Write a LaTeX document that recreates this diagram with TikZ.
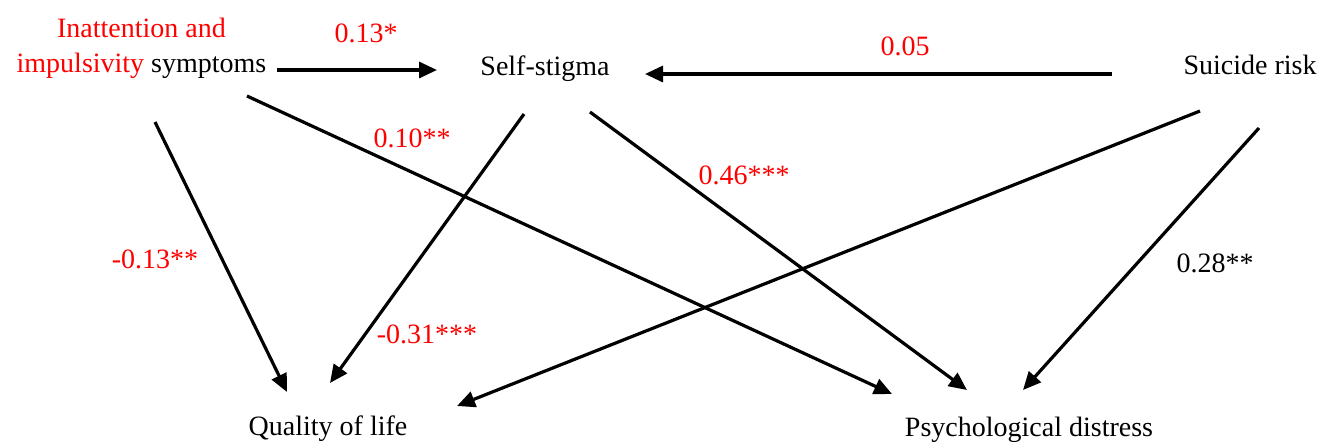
\documentclass[tikz,border=0pt]{standalone}
\usepackage{fontspec}
\setmainfont{Liberation Serif}
\usepackage{tikz}
\usetikzlibrary{arrows.meta, positioning, calc}

\begin{document}
\begin{tikzpicture}[x=0.75pt, y=-0.75pt,
    every node/.style={outer sep=0pt, inner sep=0pt, anchor=base, font=\fontsize{21}{26.25}\selectfont},
    path/.style={line width=2.4pt, -{Triangle[length=13.5pt, width=12pt]}},
    coef/.style={text=red}]
    \useasboundingbox (0,0) rectangle (1331,444);

    % Variables
    \node[align=center] (inat) at (141.5,72) {\textcolor{red}{Inattention and}\\\textcolor{red}{impulsivity} symptoms};
    \node (stigma) at (545,75) {Self-stigma};
    \node (suicide) at (1250,74) {Suicide risk};
    \node (qol) at (328,435) {Quality of life};
    \node (distress) at (1029,436) {Psychological distress};

    % Arrow ends
    \coordinate (inat-s) at (277,70);
    \coordinate (stigma-w) at (437,70);
    \coordinate (suicide-w) at (1112,74);
    \coordinate (stigma-e) at (645,74);
    \coordinate (inat-q) at (155,122);
    \coordinate (qol-i) at (287,392);
    \coordinate (inat-d) at (247,96);
    \coordinate (distress-i) at (892,394);
    \coordinate (stigma-q) at (524,114);
    \coordinate (qol-s) at (330,383);
    \coordinate (stigma-d) at (590,112);
    \coordinate (distress-s) at (967,390);
    \coordinate (suicide-q) at (1200,111);
    \coordinate (qol-r) at (457,406);
    \coordinate (suicide-d) at (1259,128);
    \coordinate (distress-r) at (1023,390);

    % Paths
    \draw[path] (inat-s) -- (stigma-w);
    \draw[path] (suicide-w) -- (stigma-e);
    \draw[path] (inat-q) -- (qol-i);
    \draw[path] (inat-d) -- (distress-i);
    \draw[path] (stigma-q) -- (qol-s);
    \draw[path] (stigma-d) -- (distress-s);
    \draw[path] (suicide-q) -- (qol-r);
    \draw[path] (suicide-d) -- (distress-r);

    % Coefficients
    \node[coef] (c1) at (366,42) {0.13*};
    \node[coef] (c2) at (905,55) {0.05};
    \node[coef] (c3) at (412,147) {0.10**};
    \node[coef] (c4) at (744,184) {0.46***};
    \node[coef] (c5) at (155,268) {-0.13**};
    \node[coef] (c6) at (427,343) {-0.31***};
    \node (c7) at (1215,272) {0.28**};
\end{tikzpicture}
\end{document}
